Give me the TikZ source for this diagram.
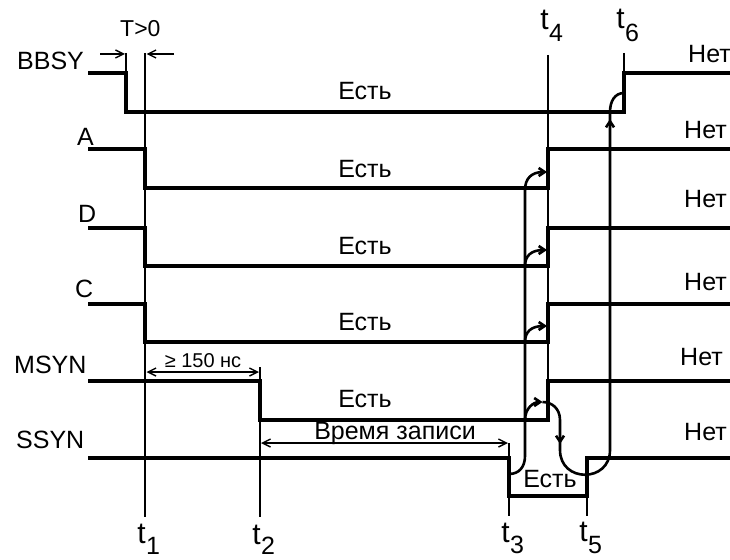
\documentclass[tikz,border=0pt]{standalone}
\usepackage{fontspec}
\setmainfont{Liberation Sans}
\usetikzlibrary{arrows.meta}
\begin{document}
\begin{tikzpicture}[x=1pt,y=-1pt,
  sig/.style={line width=4pt, line join=miter},
  thinln/.style={line width=1.6pt},
  barb/.tip={Straight Barb[length=8pt,width=8pt]},
  cbarb/.tip={Straight Barb[length=6pt,width=8pt]},
  meas/.style={line width=1.4pt},
  cause/.style={line width=2.6pt},
  lbl/.style={inner sep=0pt, font=\fontsize{25}{30}\selectfont},
  small/.style={inner sep=0pt, font=\fontsize{20}{24}\selectfont},
  tch/.style={inner sep=0pt, font=\fontsize{30}{36}\selectfont},
  tsub/.style={inner sep=0pt, font=\fontsize{25}{30}\selectfont}]
\useasboundingbox (0,0) rectangle (730,559);

% key coordinates
\coordinate (b0) at (88,73);
\coordinate (a0) at (88,149);
\coordinate (d0) at (88,228);
\coordinate (c0) at (88,304);
\coordinate (m0) at (88,381);
\coordinate (s0) at (88,458);

% signals
\draw[sig] (b0) -- (126,73) -- (126,112) -- (624,112) -- (624,73) -- (730,73);
\draw[sig] (a0) -- (145,149) -- (145,188) -- (548,188) -- (548,149) -- (730,149);
\draw[sig] (d0) -- (145,228) -- (145,266) -- (548,266) -- (548,228) -- (730,228);
\draw[sig] (c0) -- (145,304) -- (145,342) -- (548,342) -- (548,304) -- (730,304);
\draw[sig] (m0) -- (260,381) -- (260,420) -- (548,420) -- (548,381) -- (730,381);
\draw[sig] (s0) -- (509,458) -- (509,496) -- (587,496) -- (587,458) -- (730,458);

% time marker lines
\coordinate (t1top) at (145,53);  \coordinate (t1bot) at (145,517);
\coordinate (t0top) at (126,53);  \coordinate (t0bot) at (126,73);
\coordinate (t2top) at (260,367); \coordinate (t2bot) at (260,517);
\coordinate (t3top) at (509,443); \coordinate (t3bot) at (509,516);
\coordinate (t4top) at (548,55);  \coordinate (t4bot) at (548,420);
\coordinate (t5top) at (587,496); \coordinate (t5bot) at (587,516);
\coordinate (t6top) at (624,53);  \coordinate (t6bot) at (624,73);
\draw[thinln] (t1top) -- (t1bot);
\draw[thinln] (t0top) -- (t0bot);
\draw[thinln] (t2top) -- (t2bot);
\draw[thinln] (t3top) -- (t3bot);
\draw[thinln] (t4top) -- (t4bot);
\draw[thinln] (t5top) -- (t5bot);
\draw[thinln] (t6top) -- (t6bot);

% T>0
\coordinate (ta) at (100,54);
\coordinate (tb) at (174,54);
\draw[meas,-barb] (ta) -- (125,54);
\draw[meas,-barb] (tb) -- (146.5,54);
\node[lbl, font=\fontsize{23}{28}\selectfont, anchor=base west] (tgt) at (120,37) {T>0};

% >= 150 ns
\draw[meas,barb-barb] (146.5,372) -- (259,372);
\node[small, anchor=base] (n150) at (203,367) {≥ 150 нс};

% write time
\draw[meas,barb-barb] (261,443) -- (508,443);
\node[lbl, anchor=base] (nwr) at (395,439) {Время записи};

% signal names
\node[lbl, anchor=base west] (nBBSY) at (17,70) {BBSY};
\node[lbl, anchor=base west] (nA) at (77,145) {A};
\node[lbl, anchor=base west] (nD) at (78,222) {D};
\node[lbl, anchor=base west] (nC) at (75,297) {C};
\node[lbl, anchor=base west] (nMSYN) at (14,373) {MSYN};
\node[lbl, anchor=base west] (nSSYN) at (16,448) {SSYN};

% Yes labels
\node[lbl, anchor=base] (eB) at (365,100) {Есть};
\node[lbl, anchor=base] (eA) at (365,177) {Есть};
\node[lbl, anchor=base] (eD) at (365,254) {Есть};
\node[lbl, anchor=base] (eC) at (365,330) {Есть};
\node[lbl, anchor=base] (eM) at (365,407) {Есть};
\node[lbl, anchor=base] (eS) at (550,487) {Есть};

% No labels
\node[lbl, anchor=base west] (hB) at (688,63) {Нет};
\node[lbl, anchor=base west] (hA) at (684,138) {Нет};
\node[lbl, anchor=base west] (hD) at (684,207) {Нет};
\node[lbl, anchor=base west] (hC) at (684,290) {Нет};
\node[lbl, anchor=base west] (hM) at (680,365) {Нет};
\node[lbl, anchor=base west] (hS) at (684,440) {Нет};

% time labels
\node[tch, anchor=base east] (l1) at (146,543) {t};
\node[tsub, anchor=base west] (l1s) at (146,554) {1};
\node[tch, anchor=base east] (l2) at (261,544) {t};
\node[tsub, anchor=base west] (l2s) at (261,554) {2};
\node[tch, anchor=base east] (l3) at (510,542) {t};
\node[tsub, anchor=base west] (l3s) at (510,553) {3};
\node[tch, anchor=base east] (l5) at (588,541) {t};
\node[tsub, anchor=base west] (l5s) at (588,553) {5};
\node[tch, anchor=base east] (l4) at (549,30) {t};
\node[tsub, anchor=base west] (l4s) at (549,42) {4};
\node[tch, anchor=base east] (l6) at (625,29) {t};
\node[tsub, anchor=base west] (l6s) at (625,42) {6};

% causal connections
\coordinate (sf) at (509,474);
\coordinate (vA) at (525,190);
\draw[cause] (sf) .. controls (519,474) and (525,467) .. (525,456) -- (vA);
\draw[cause,-cbarb] (vA) .. controls (525,179) and (531,172) .. (547,172);
\draw[cause,-cbarb] (525,266) .. controls (525,256) and (531,250) .. (547,250);
\draw[cause,-cbarb] (525,342) .. controls (525,332) and (531,326) .. (547,326);
\draw[cause,-cbarb] (525,420) .. controls (525,408) and (533.75,402) .. (542.5,402);
\draw[cause,-cbarb] (542.5,402) .. controls (551.25,402) and (560,408) .. (560,420) -- (560,444);
\draw[cause,-cbarb] (560,440) -- (560,450) .. controls (560,483) and (610,483) .. (610,450) -- (610,119);
\draw[cause] (610,123) -- (610,112) .. controls (610,101) and (615,93) .. (624,93);
\end{tikzpicture}
\end{document}
